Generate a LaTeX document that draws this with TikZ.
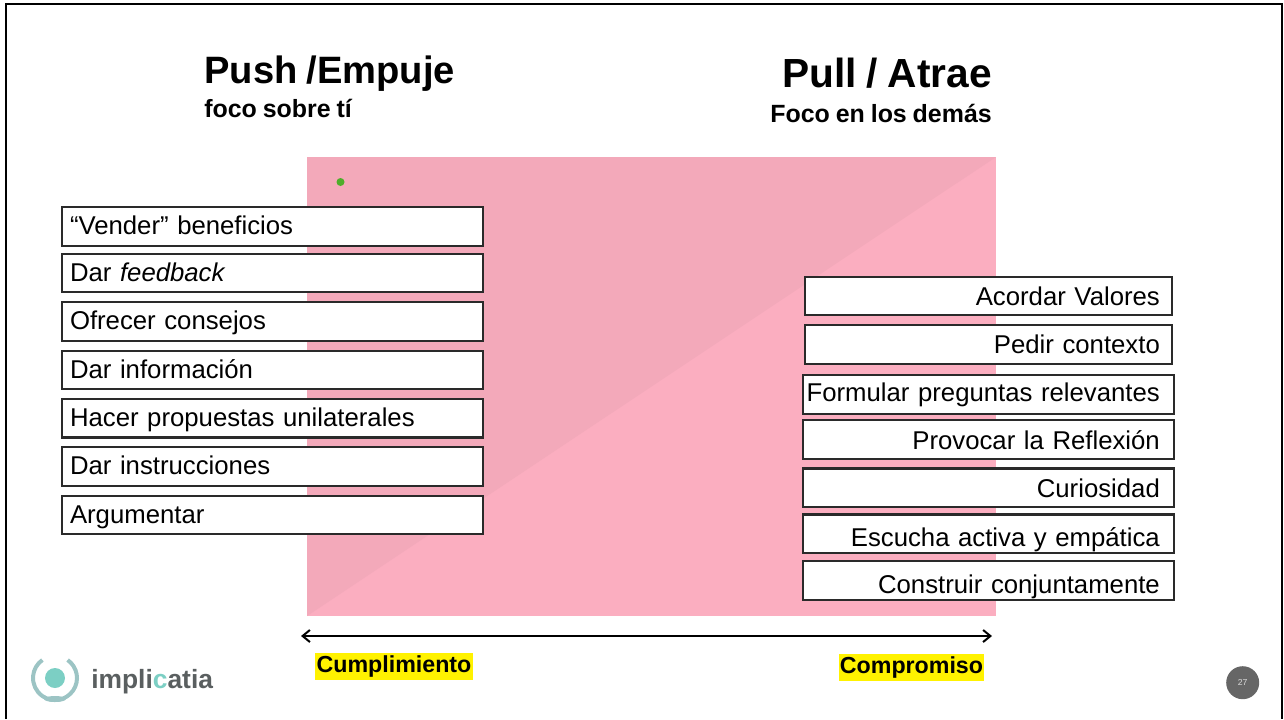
\documentclass[tikz,border=0pt]{standalone}
\usepackage{fontspec}
\setmainfont[WordSpace=0.85]{Liberation Sans}
\usetikzlibrary{arrows.meta}
\definecolor{pinkdark}{HTML}{F3A9BA}
\definecolor{pinklight}{HTML}{FBAEC0}
\definecolor{boxline}{HTML}{2A2A2A}
\definecolor{dotgreen}{HTML}{4EAD2B}
\definecolor{logoteal}{HTML}{7CCFC4}
\definecolor{logoring}{HTML}{9CC4C4}
\definecolor{logotext}{HTML}{5A5F60}

\tikzstyle{listbox} = [rectangle, draw=boxline, line width=1.6pt, fill=white, minimum height=28.9pt, inner sep=0pt, text height=13pt, text depth=.5pt, font=\fontsize{19.3}{22}\selectfont]
\tikzstyle{pushbox} = [listbox, text width=303.75pt, inner xsep=6pt, align=left]
\tikzstyle{pullbox} = [listbox, text width=271pt, inner xsep=2pt, align=right, text height=14.5pt, execute at end node={\hspace*{7pt}}]
\tikzstyle{pullwide} = [listbox, text width=274pt, inner xsep=2pt, align=right, execute at end node={\hspace*{8.5pt}}]
\tikzstyle{bigtitle} = [inner sep=0pt, font=\bfseries\fontsize{28.6}{32}\selectfont]
\tikzstyle{subtitle} = [inner sep=0pt, font=\bfseries\fontsize{18.7}{22}\selectfont]
\tikzstyle{scalelabel} = [fill=yellow, inner xsep=1pt, inner ysep=0pt, minimum height=20pt, font=\bfseries\fontsize{17.4}{20}\selectfont]

\begin{document}
\begin{tikzpicture}[x=0.75pt, y=-0.75pt, node distance=36.3pt]
        \useasboundingbox (0,0) rectangle (1284,719);
        % frame
        \draw[line width=2pt] (6,719) -- (6,4) -- (1282,4) -- (1282,719);
        % background
        \fill[pinklight] (307,157) rectangle (996,616);
        \fill[pinkdark] (307,616) -- (307,157) -- (996,157) -- cycle;
        \fill[dotgreen] (340.5,182) circle (4);
        % titles
        \node[bigtitle, anchor=base west] (push) at (204,83) {Push /Empuje};
        \node[subtitle, anchor=base west] (pushsub) at (204,117) {foco sobre tí};
        \node[bigtitle, anchor=base east, font=\bfseries\fontsize{30.5}{34}\selectfont] (pull) at (992,87) {Pull / Atrae};
        \node[subtitle, anchor=base east] (pullsub) at (992,122) {Foco en los demás};
        % push list
        \node[pushbox] (push0) at (272.5,226.5) {“Vender” beneficios};
        \node[pushbox, below of=push0, node distance=34.9pt] (push1) {Dar \textit{feedback}};
        \node[pushbox, below of=push1] (push2) {Ofrecer consejos};
        \node[pushbox, below of=push2] (push3) {Dar información};
        \node[pushbox, below of=push3] (push4) {Hacer propuestas unilaterales};
        \node[pushbox, below of=push4] (push5) {Dar instrucciones};
        \node[pushbox, below of=push5] (push6) {Argumentar};
        % pull list
        \node[pullbox] (pull0) at (988.5,296) {Acordar Valores};
        \node[pullbox, below of=pull0] (pull1) {Pedir contexto};
        \node[pullwide, below of=pull1, node distance=37.5pt, text height=11pt] (pull2) {\mbox{Formular preguntas relevantes}};
        \node[pullwide, below of=pull2, node distance=33.75pt, text height=15pt] (pull3) {Provocar la Reflexión};
        \node[pullwide, below of=pull3, text height=15pt] (pull4) {Curiosidad};
        \node[pullwide, below of=pull4, node distance=34.5pt, text height=20pt] (pull5) {Escucha activa y empática};
        \node[pullwide, below of=pull5, node distance=34.9pt, text height=20pt] (pull6) {Construir conjuntamente};
        % scale
        \coordinate (low) at (301,636);
        \coordinate (high) at (992,636);
        \draw[{Straight Barb[length=5.5pt,width=9pt]}-{Straight Barb[length=5.5pt,width=9pt]}, line width=1.5pt] (low) -- (high);
        \node[scalelabel] (cumplimiento) at (394,666.5) {Cumplimiento};
        \node[scalelabel] (compromiso) at (911.5,667.5) {Compromiso};
        % logo
        \draw[logoring, line width=3pt] (55,678) ++(-55:22) arc (-55:235:22);
        \fill[logoteal] (55,678) circle (10);
        \fill[logoring] (55,699) ellipse (11 and 3);
        \node[inner sep=0pt, anchor=base west, text=logotext, font=\bfseries\fontsize{19.8}{22}\selectfont] (logo) at (91,688) {impli\textcolor{logoteal}{c}atia};
        % page number
        \node[circle, fill=black!60, minimum size=24.75pt, inner sep=0pt, text=white!85!black, font=\fontsize{6.5}{7}\selectfont] (page) at (1242.7,682.7) {27};
    \end{tikzpicture}
\end{document}
